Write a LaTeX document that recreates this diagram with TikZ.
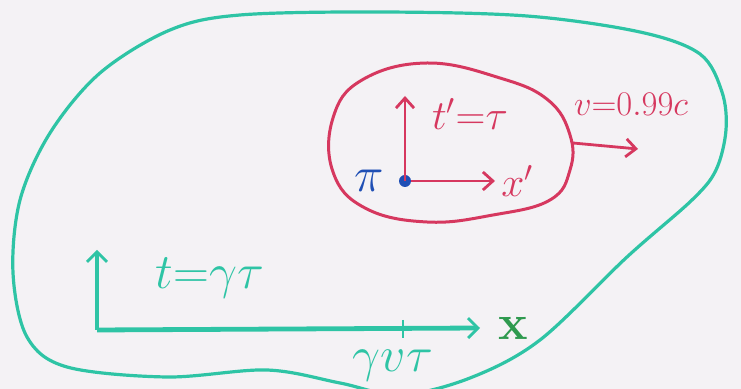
\documentclass[tikz,border=0pt]{standalone}
\usepackage{xcolor}
\usepackage{tikz}
\usetikzlibrary{arrows.meta,positioning}
\definecolor{LabTeal}{HTML}{2EC4A5}
\definecolor{PionRed}{HTML}{D6385F}
\definecolor{PionBlue}{HTML}{1F4FB5}
\definecolor{MarkGreen}{HTML}{2F9A4F}
\definecolor{PaperBg}{HTML}{F4F2F5}

\begin{document}
\begin{tikzpicture}[
	x=0.5pt, y=-0.5pt,
	lab/.style={font=\fontsize{20}{24}\selectfont, inner sep=1pt},
	big/.style={font=\fontsize{25}{30}\selectfont, inner sep=1pt},
	small/.style={font=\fontsize{17}{20}\selectfont, inner sep=1pt},
	tealarrow/.style={-{Straight Barb[length=5pt,width=10pt,line width=1.4pt]}, line width=2.4pt, LabTeal},
	redarrow/.style={-{Straight Barb[length=5pt,width=9pt]}, line width=1.4pt, PionRed},
	dot/.style={circle, fill=PionBlue, inner sep=0pt, minimum size=6pt}
]
\fill[PaperBg] (0,0) rectangle (741,389);
\useasboundingbox (0,0) rectangle (741,389);

% lab frame
\draw[LabTeal, line width=1.6pt] plot[smooth cycle, tension=0.55] coordinates {
	(170,30) (240,15) (380,12) (527,16) (640,32) (700,54) (722,92) (726,130)
	(716,170) (692,200) (627,257) (540,340) (470,378) (400,395) (340,383)
	(267,370) (167,377) (67,367) (27,337) (13,273) (20,200) (50,133) (100,73)};

% pion frame
\draw[PionRed, line width=1.5pt] plot[smooth cycle, tension=0.7] coordinates {
	(427,63) (500,78) (548,100) (570,135) (570,170) (550,200) (493,215)
	(427,222) (365,208) (333,172) (333,118) (362,80)};

\node[dot] (pion) at (405,181) {};
\node[big, PionBlue, left=6pt of pion] (pilabel) {$\pi$};
\coordinate (tpr) at (405,96);
\coordinate (xpr) at (495,181);
\draw[redarrow] (pion.center) -- (tpr);
\draw[redarrow] (pion.east) -- (xpr);
\node[lab, PionRed] (tprlabel) at (470,114) {$t'{=}\tau$};
\node[lab, PionRed, right=2pt of xpr] (xprlabel) {$x'$};

\coordinate (vstart) at (573,143);
\coordinate (vend) at (638,149);
\draw[redarrow] (vstart) -- (vend);
\node[small, PionRed] (vlabel) at (631,104) {$v{=}0.99c$};

% lab axes
\coordinate (origin) at (97,330);
\coordinate (tlab) at (97,250);
\coordinate (xlab) at (480,328);
\draw[tealarrow] (origin) -- (tlab);
\draw[tealarrow] (origin) -- (xlab);
\node[big, LabTeal] (tlabel) at (210,278) {$t{=}\gamma\tau$};
\node[font=\fontsize{23}{26}\selectfont, inner sep=1pt, MarkGreen, right=8pt of xlab] (xlabel) {$\mathbf{x}$};

\coordinate (tick) at (403,329);
\draw[LabTeal, line width=1.4pt] (tick) ++(0,-9) -- ++(0,18);
\node[big, LabTeal] (ticklabel) at (393,366) {$\gamma v\tau$};
\end{tikzpicture}
\end{document}
